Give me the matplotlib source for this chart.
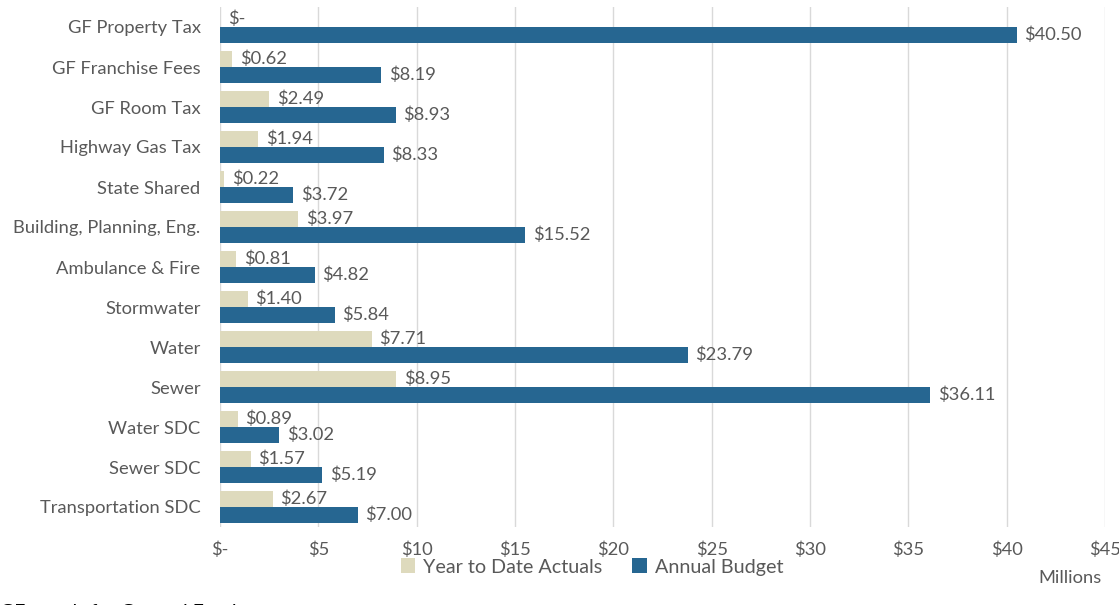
import matplotlib
matplotlib.use("Agg")
import matplotlib.pyplot as plt
import numpy as np

categories = ["GF Property Tax", "GF Franchise Fees", "GF Room Tax", "Highway Gas Tax",
              "State Shared", "Building, Planning, Eng.", "Ambulance & Fire", "Stormwater",
              "Water", "Sewer", "Water SDC", "Sewer SDC", "Transportation SDC"]
ytd_actuals = [0.0, 0.62, 2.49, 1.94, 0.22, 3.97, 0.81, 1.40, 7.71, 8.95, 0.89, 1.57, 2.67]
annual_budget = [40.50, 8.19, 8.93, 8.33, 3.72, 15.52, 4.82, 5.84, 23.79, 36.11, 3.02, 5.19, 7.00]
xticks = [0, 5, 10, 15, 20, 25, 30, 35, 40, 45]
xticklabels = ["$-", "$5", "$10", "$15", "$20", "$25", "$30", "$35", "$40", "$45"]

plt.rcParams['font.family'] = ['Lato', 'DejaVu Sans']
grey = "#595959"
c_ytd = "#dedabd"
c_bud = "#266691"
fs = 13.2

fig = plt.figure(figsize=(11.19, 6.05), dpi=100)
ax = fig.add_axes([220/1119, 1 - 527/605, (1105-220)/1119, 520/605])

y = np.arange(len(categories))
h = 0.4
ax.barh(y - h/2, ytd_actuals, height=h, color=c_ytd, label="Year to Date Actuals")
ax.barh(y + h/2, annual_budget, height=h, color=c_bud, label="Annual Budget")

def fmt(v):
    return "$-" if v == 0 else f"${v:.2f}"

for yi, v in zip(y, ytd_actuals):
    ax.annotate(fmt(v), (v, yi - h/2), xytext=(5.5, 0), textcoords="offset points",
                va="center", ha="left", fontsize=fs, color=grey)
for yi, v in zip(y, annual_budget):
    ax.annotate(fmt(v), (v, yi + h/2), xytext=(5.5, 0), textcoords="offset points",
                va="center", ha="left", fontsize=fs, color=grey)

ax.set_ylim(len(categories) - 0.5, -0.5)
ax.set_xlim(0, 45)
ax.set_yticks(y)
ax.set_yticklabels(categories, fontsize=fs, color=grey)
ax.set_xticks(xticks)
ax.set_xticklabels(xticklabels, fontsize=fs, color=grey)
ax.tick_params(axis='y', length=0, pad=14)
ax.tick_params(axis='x', length=0, pad=10.5)
ax.grid(axis='x', color="#d9d9d9", linewidth=1)
ax.set_axisbelow(True)
for s in ax.spines.values():
    s.set_visible(False)

fig.text(1070/1119, 1 - 578/605, "Millions", ha="center", va="center", fontsize=fs, color=grey)
fig.legend(loc="center", bbox_to_anchor=(592/1119, 1 - 567/605), ncol=2, frameon=False,
           fontsize=14.2, labelcolor=grey, handlelength=0.75, handleheight=0.75,
           columnspacing=1.5, handletextpad=0.4, borderpad=0.1)
fig.text(0, 1 - 613/605, "GF stands for General Fund", ha="left", va="center",
         fontsize=14, color="#000000")

fig.savefig("out.png", dpi=100)
